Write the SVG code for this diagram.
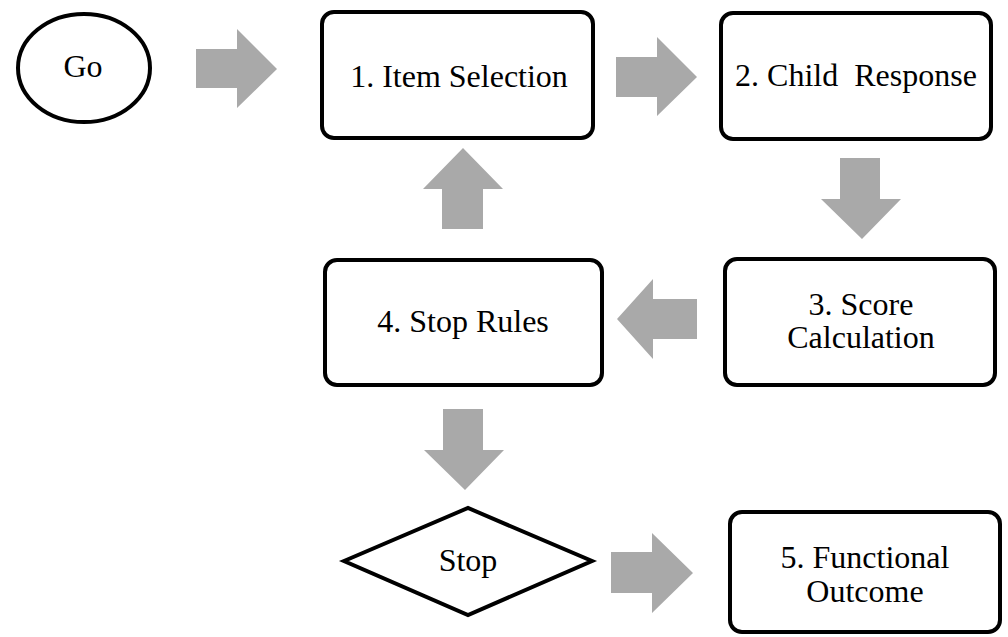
<svg xmlns="http://www.w3.org/2000/svg" width="1008" height="637" viewBox="0 0 1008 637">
<style>
.node{fill:#ffffff;stroke:#000000;stroke-width:4}
.lbl{font-family:'Liberation Serif','Times New Roman',serif;font-size:32px;fill:#000000;text-anchor:middle}
.arr{fill:#a9a9a9;stroke:none}
</style>
<rect x="0" y="0" width="1008" height="637" fill="#ffffff"/>
<g id="connectors">
<polygon class="arr" points="196,49 237,49 237,29 277,69 237,108 237,88 196,88"/>
<polygon class="arr" points="616,57 657,57 657,37 697,77 657,116 657,97 616,97"/>
<polygon class="arr" points="840,158 880,158 880,199 901,199 862,239 821,199 840,199"/>
<polygon class="arr" points="697,299 653,299 653,279 617,319 653,359 653,339 697,339"/>
<polygon class="arr" points="442,229 442,189 423,189 463,148 503,189 483,189 483,229"/>
<polygon class="arr" points="443,409 483,409 483,450 504,450 465,490 424,450 443,450"/>
<polygon class="arr" points="611,552 652,552 652,533 693,573 652,613 652,593 611,593"/>
</g>
<g id="go">
<ellipse class="node" cx="84" cy="68" rx="66" ry="54"/>
<text class="lbl" x="83" y="77">Go</text>
</g>
<g id="item-selection">
<rect class="node" x="322" y="12" width="271" height="126" rx="12" ry="12"/>
<text class="lbl" x="459" y="87">1. Item Selection</text>
</g>
<g id="child-response">
<rect class="node" x="721" y="13" width="270" height="126" rx="12" ry="12"/>
<text class="lbl" x="856" y="86" xml:space="preserve">2. Child  Response</text>
</g>
<g id="score-calculation">
<rect class="node" x="725" y="259" width="270" height="126" rx="12" ry="12"/>
<text class="lbl" x="861" y="315">3. Score</text>
<text class="lbl" x="861" y="348">Calculation</text>
</g>
<g id="stop-rules">
<rect class="node" x="325" y="260" width="277" height="125" rx="12" ry="12"/>
<text class="lbl" x="463" y="332">4. Stop Rules</text>
</g>
<g id="stop">
<polygon class="node" points="344,561 468,508 592,561 468,615"/>
<text class="lbl" x="468" y="571">Stop</text>
</g>
<g id="functional-outcome">
<rect class="node" x="730" y="512" width="270" height="120" rx="12" ry="12"/>
<text class="lbl" x="865" y="568">5. Functional</text>
<text class="lbl" x="865" y="602">Outcome</text>
</g>
</svg>
